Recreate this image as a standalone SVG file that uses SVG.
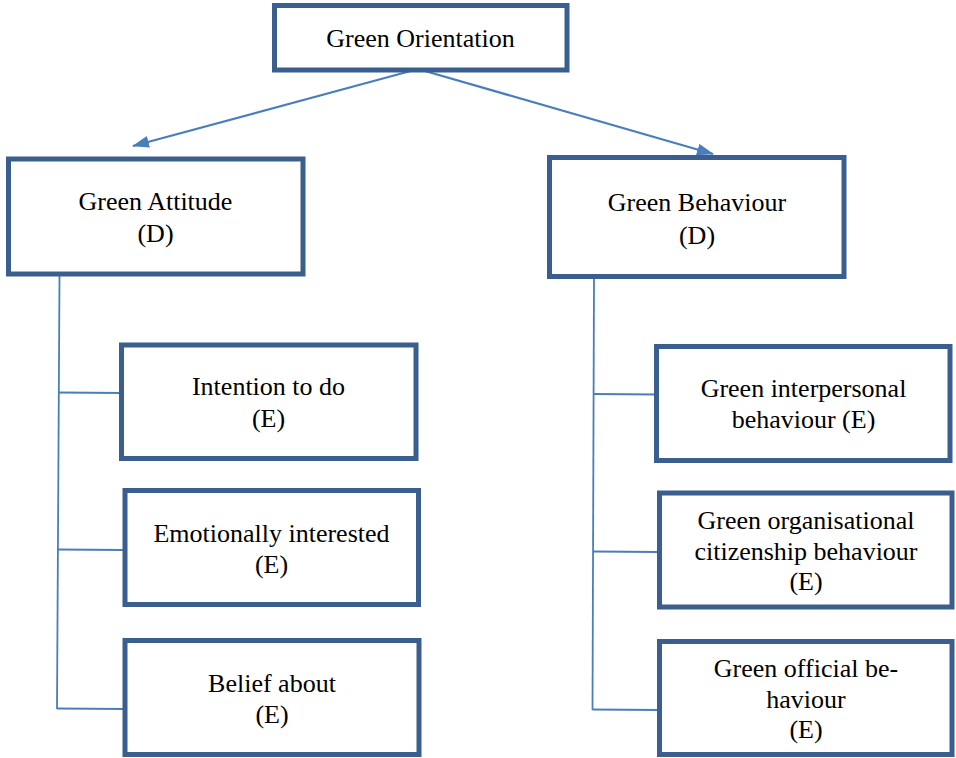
<svg xmlns="http://www.w3.org/2000/svg" width="956" height="758" viewBox="0 0 956 758">
<defs>
<style>
.box{fill:#fff;stroke:#3a5f8e;stroke-width:5}
.t{font-family:"Liberation Serif","Times New Roman",serif;font-size:26px;fill:#000;text-anchor:middle}
.ln{fill:none;stroke:#4a7ebb;stroke-width:1.8}
.ar{fill:none;stroke:#4a7ebb;stroke-width:2.2}
</style>
<marker id="ah" viewBox="0 0 17 12" refX="16" refY="6" markerWidth="17" markerHeight="12" markerUnits="userSpaceOnUse" orient="auto">
<path d="M0,0 L17,6 L0,12 z" fill="#4a7ebb"/>
</marker>
</defs>
<rect width="956" height="758" fill="#fff"/>
<g id="connectors">
<path class="ar" d="M418,69 L133,146" marker-end="url(#ah)"/>
<path class="ar" d="M418,69 L713,154" marker-end="url(#ah)"/>
<path class="ln" d="M59.5,276 L57,709"/>
<path class="ln" d="M59,392.5 L122,393"/>
<path class="ln" d="M58,549.5 L124,550"/>
<path class="ln" d="M57,708.5 L124,709"/>
<path class="ln" d="M594,278 L592.5,710"/>
<path class="ln" d="M594,394 L657,394.5"/>
<path class="ln" d="M593,551.5 L659,552"/>
<path class="ln" d="M592.5,709.5 L659,710"/>
</g>
<g id="green-orientation">
<rect class="box" x="274.5" y="5.5" width="292.5" height="64.5"/>
<text class="t" x="420.5" y="47">Green Orientation</text>
</g>
<g id="green-attitude">
<rect class="box" x="8.5" y="159" width="294.5" height="115"/>
<text class="t" x="155.5" y="210">Green Attitude</text>
<text class="t" x="155.5" y="242">(D)</text>
</g>
<g id="green-behaviour">
<rect class="box" x="549.5" y="157.5" width="294.5" height="119"/>
<text class="t" x="697" y="210.5">Green Behaviour</text>
<text class="t" x="697" y="244">(D)</text>
</g>
<g id="intention">
<rect class="box" x="121.5" y="345" width="294.5" height="113.5"/>
<text class="t" x="268.5" y="395">Intention to do</text>
<text class="t" x="268.5" y="426.5">(E)</text>
</g>
<g id="emotionally">
<rect class="box" x="125" y="490.5" width="293.5" height="114"/>
<text class="t" x="271.5" y="541.5">Emotionally interested</text>
<text class="t" x="271.5" y="573">(E)</text>
</g>
<g id="belief">
<rect class="box" x="125" y="640.5" width="294" height="114"/>
<text class="t" x="272" y="691.5">Belief about</text>
<text class="t" x="272" y="723">(E)</text>
</g>
<g id="interpersonal">
<rect class="box" x="656.5" y="346.5" width="293.5" height="114"/>
<text class="t" x="803.5" y="396.5">Green interpersonal</text>
<text class="t" x="803.5" y="428">behaviour (E)</text>
</g>
<g id="ocb">
<rect class="box" x="659.5" y="493" width="292.5" height="114"/>
<text class="t" x="806" y="529">Green organisational</text>
<text class="t" x="806" y="560">citizenship behaviour</text>
<text class="t" x="806" y="590">(E)</text>
</g>
<g id="official">
<rect class="box" x="659.5" y="641.5" width="292.5" height="113"/>
<text class="t" x="806" y="676.5">Green official be-</text>
<text class="t" x="806" y="708">haviour</text>
<text class="t" x="806" y="738">(E)</text>
</g>
</svg>
